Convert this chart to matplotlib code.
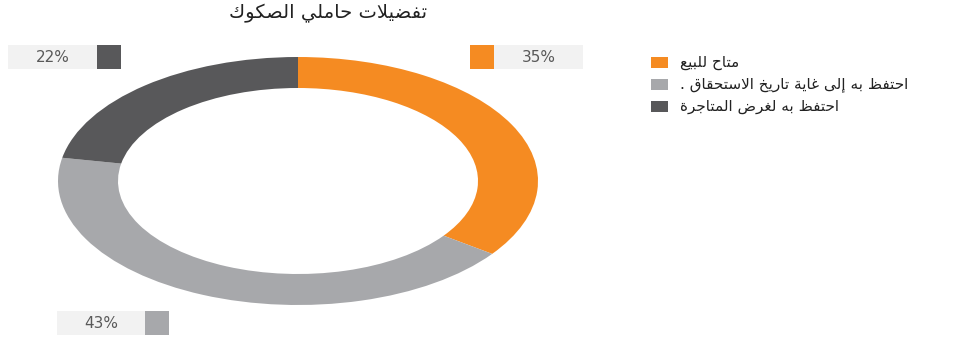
import matplotlib
matplotlib.use("Agg")
import matplotlib.pyplot as plt
from matplotlib.patches import Rectangle

# بيانات الرسم
labels = ["متاح للبيع", "احتفظ به إلى غاية تاريخ الاستحقاق .", " احتفظ به لغرض المتاجرة"]
values = [35, 43, 22]
colors = ["#F58B22", "#A7A8AB", "#58585A"]
title = "تفضيلات حاملي الصكوك"


# تشكيل بسيط للحروف العربية (matplotlib لا يدعم الربط ولا الاتجاه من اليمين)
DUAL = {'ب': 0xFE8F, 'ت': 0xFE95, 'ج': 0xFE9D, 'ح': 0xFEA1, 'خ': 0xFEA5,
        'س': 0xFEB1, 'ص': 0xFEB9, 'ض': 0xFEBD, 'ظ': 0xFEC5, 'ع': 0xFEC9,
        'غ': 0xFECD, 'ف': 0xFED1, 'ق': 0xFED5, 'ك': 0xFED9, 'ل': 0xFEDD,
        'م': 0xFEE1, 'ه': 0xFEE9, 'ي': 0xFEF1}
RIGHT = {'ا': 0xFE8D, 'إ': 0xFE87, 'ة': 0xFE93, 'ر': 0xFEAD, 'و': 0xFEED,
         'ى': 0xFEEF, 'LA': 0xFEFB, 'LAI': 0xFEF9}


def shape(txt):
    chars = []
    i = 0
    while i < len(txt):
        c = txt[i]
        if c == 'ل' and i + 1 < len(txt) and txt[i + 1] in 'اإ':
            chars.append('LA' if txt[i + 1] == 'ا' else 'LAI')
            i += 2
        else:
            chars.append(c)
            i += 1
    out = []
    for k, c in enumerate(chars):
        if c in DUAL or c in RIGHT:
            prev = chars[k - 1] if k > 0 else None
            nxt = chars[k + 1] if k + 1 < len(chars) else None
            jp = prev in DUAL
            jn = c in DUAL and (nxt in DUAL or nxt in RIGHT)
            base = DUAL.get(c, RIGHT.get(c))
            if jp and jn:
                code = base + 3
            elif jn:
                code = base + 2
            elif jp:
                code = base + 1
            else:
                code = base
            out.append(chr(code))
        else:
            out.append(c)
    return ''.join(reversed(out))


W, H = 971, 337
fig = plt.figure(figsize=(W / 100, H / 100), dpi=100)

# الحلقة (مطوّلة أفقيا كما في الأصل)
ax = fig.add_axes([58 / W, 1 - 305 / H, 480 / W, 248 / H])
ax.pie(values, colors=colors, startangle=90, counterclock=False, radius=1,
       wedgeprops=dict(width=0.25, edgecolor='none'))
ax.set_aspect('auto')
ax.set_xlim(-1, 1)
ax.set_ylim(-1, 1)
ax.axis('off')

# طبقة للنصوص والمربعات بإحداثيات البكسل
ov = fig.add_axes([0, 0, 1, 1])
ov.set_xlim(0, W)
ov.set_ylim(H, 0)
ov.axis('off')

ov.text(328, 13, shape(title), ha='center', va='center', fontsize=14,
        family='DejaVu Sans', color='#222222')

# بطاقات النسب: (خلفية x, عرض, مربع x, y)
boxes = [(494, 89, 470, 45), (57, 88, 145, 311), (8, 89, 97, 45)]
for v, c, (bx, bw, sx, y) in zip(values, colors, boxes):
    ov.add_patch(Rectangle((bx, y), bw, 24, facecolor='#F2F2F2', edgecolor='none'))
    ov.add_patch(Rectangle((sx, y), 24, 24, facecolor=c, edgecolor='none'))
    ov.text(bx + bw / 2, y + 12.5, f"{v}%", ha='center', va='center',
            fontsize=11, color='#595959')

# وسيلة الإيضاح
for i, (lab, c) in enumerate(zip(labels, colors)):
    yc = 62 + i * 22
    ov.add_patch(Rectangle((651, yc - 5.5), 17, 11, facecolor=c, edgecolor='none'))
    ov.text(680, yc, shape(lab), ha='left', va='center', fontsize=11,
            family='DejaVu Sans', color='#222222')

fig.savefig("out.png", dpi=100)
